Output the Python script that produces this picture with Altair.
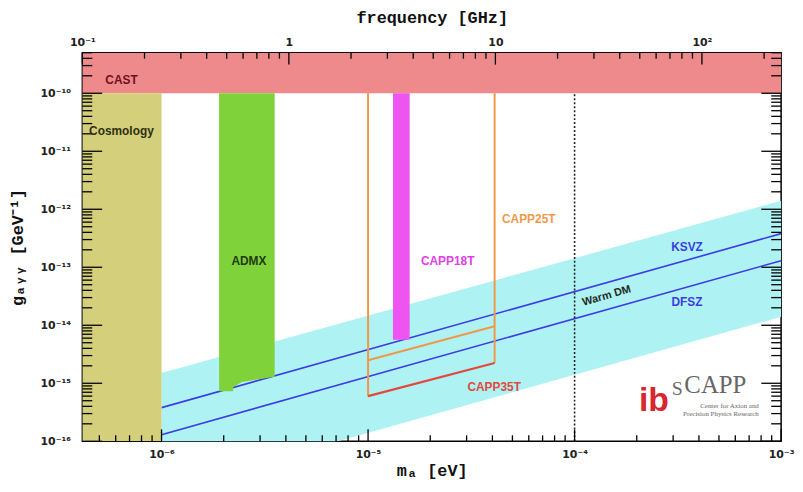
import altair as alt
import pandas as pd

GHZ_PER_EV = 2.418e5
XMIN = 0.1 / GHZ_PER_EV
XMAX = 1e-3
YMIN = 1e-16
YMAX = 5e-10
W, H = 705, 392

# filled rectangular exclusion regions
rect_names = ["CAST", "Cosmology", "CAPP18T"]
rect_m_lo = [XMIN, XMIN, 1.32e-5]
rect_m_hi = [XMAX, 1e-6, 1.59e-5]
rect_g_lo = [1e-10, YMIN, 5.6e-15]
rect_g_hi = [YMAX, 1e-10, 1e-10]
rect_colors = ["#ee8a8c", "#d4cf7a", "#ee55f0"]

# ADMX region (ragged lower edge)
admx_m = [1.90e-6, 2.22e-6, 2.22e-6, 2.45e-6, 3.53e-6]
admx_g_lo = [7.3e-16, 7.3e-16, 8.5e-16, 1.05e-15, 1.3e-15]
admx_g_hi = [1e-10, 1e-10, 1e-10, 1e-10, 1e-10]

# QCD axion band
band_m = [1e-6, 1e-3]
band_g_hi = [1.5e-15, 1.4e-12]
band_g_lo = [1.4e-17, 1.4e-14]

# line segments (models and CAPP sensitivities)
seg_names = ["KSVZ", "DFSZ", "25T left", "25T right", "25T bottom", "35T bottom"]
seg_m1 = [1e-6, 1e-6, 1e-5, 4.1e-5, 1e-5, 1e-5]
seg_m2 = [1e-3, 1e-3, 1e-5, 4.1e-5, 4.1e-5, 4.1e-5]
seg_g1 = [3.8e-16, 1.3e-16, 1e-10, 1e-10, 2.5e-15, 6.0e-16]
seg_g2 = [3.8e-13, 1.3e-13, 6.0e-16, 2.24e-15, 9.6e-15, 2.24e-15]
seg_colors = ["#3c3ce0", "#3c3ce0", "#f0984a", "#f0984a", "#f0984a", "#e2483c"]
seg_widths = [1.6, 1.6, 2.0, 2.0, 2.0, 2.2]

# warm dark matter boundary
wdm_m = [1e-4]
wdm_g1 = [1e-16]
wdm_g2 = [1e-10]

# labels inside the plot
lab_text = ["CAST", "ADMX", "CAPP18T", "CAPP25T", "CAPP35T", "KSVZ", "DFSZ"]
lab_m = [6.4e-7, 2.65e-6, 2.43e-5, 6.0e-5, 4.08e-5, 3.5e-4, 3.5e-4]
lab_g = [1.67e-10, 1.26e-13, 1.26e-13, 6.7e-13, 8.5e-16, 2.2e-13, 2.5e-14]
lab_colors = ["#6e1020", "#1f3a10", "#e040e6", "#f0984a", "#e2483c", "#3c3ce0", "#3c3ce0"]

cosmo_text = ["Cosmology"]
cosmo_m = [4.46e-7]
cosmo_g = [2.2e-11]

wdm_text = ["Warm DM"]
wdm_lab_m = [1.43e-4]
wdm_lab_g = [3.2e-14]

# logo texts
logo_text = ["ib", "S", "CAPP"]
logo_m = [2.05e-4, 2.95e-4, 3.40e-4]
logo_g = [3.26e-16, 6.36e-16, 6.88e-16]
logo_colors = ["#d6282e", "#6a6a6a", "#666666"]
logo_sizes = [34, 20, 25]
logo_fonts = ["Liberation Sans", "Liberation Serif", "Liberation Serif"]
logo_weights = ["bold", "normal", "normal"]
logo_sub_text = ["Center for Axion and", "Precision Physics Research"]
logo_sub_m = [7.8e-4, 7.8e-4]
logo_sub_g = [3.81e-16, 2.68e-16]

# axis ticks and labels
x_major = [1e-6, 1e-5, 1e-4, 1e-3]
x_major_labels = ["10⁻⁶", "10⁻⁵", "10⁻⁴", "10⁻³"]
freq_major = [0.1, 1, 10, 100]
freq_major_labels = ["10⁻¹", "1", "10", "10²"]
y_major = [1e-16, 1e-15, 1e-14, 1e-13, 1e-12, 1e-11, 1e-10]
y_major_labels = ["10⁻¹⁶", "10⁻¹⁵", "10⁻¹⁴", "10⁻¹³", "10⁻¹²", "10⁻¹¹", "10⁻¹⁰"]

x_minor = [k * 10.0 ** e for e in range(-7, -3) for k in range(2, 10)
           if XMIN <= k * 10.0 ** e <= XMAX]
freq_minor = [k * 10.0 ** e for e in range(-1, 3) for k in range(2, 10)
              if k * 10.0 ** e <= XMAX * GHZ_PER_EV]
y_minor = [k * 10.0 ** e for e in range(-16, -9) for k in range(2, 10)
           if k * 10.0 ** e <= YMAX]

freq_major_m = [f / GHZ_PER_EV for f in freq_major]
freq_minor_m = [f / GHZ_PER_EV for f in freq_minor]

# pixels per decade of the two log axes (tick lengths are given in pixels)
PX_DEC_X = W / 3.3835
PX_DEC_Y = H / 6.699


def label_expr(values, labels):
    expr = "''"
    for v, lab in reversed(list(zip(values, labels))):
        expr = f"abs(log(datum.value) - log({v!r})) < 0.01 ? '{lab}' : ({expr})"
    return expr


XS = alt.Scale(type="log", domain=[XMIN, XMAX], nice=False)
YS = alt.Scale(type="log", domain=[YMIN, YMAX], nice=False)

LABEL_FONT = "DejaVu Sans"
TITLE_FONT = "Liberation Mono"

rects = pd.DataFrame(dict(name=rect_names, m1=rect_m_lo, m2=rect_m_hi,
                          g1=rect_g_lo, g2=rect_g_hi, color=rect_colors))
admx = pd.DataFrame(dict(m=admx_m, lo=admx_g_lo, hi=admx_g_hi))
band = pd.DataFrame(dict(m=band_m, hi=band_g_hi, lo=band_g_lo))
segs = pd.DataFrame(dict(name=seg_names, m1=seg_m1, m2=seg_m2, g1=seg_g1,
                         g2=seg_g2, color=seg_colors, w=seg_widths))
wdm = pd.DataFrame(dict(m=wdm_m, g1=wdm_g1, g2=wdm_g2))
labs = pd.DataFrame(dict(t=lab_text, m=lab_m, g=lab_g, color=lab_colors))
cosmo = pd.DataFrame(dict(t=cosmo_text, m=cosmo_m, g=cosmo_g))
wdml = pd.DataFrame(dict(t=wdm_text, m=wdm_lab_m, g=wdm_lab_g))
logo = pd.DataFrame(dict(t=logo_text, m=logo_m, g=logo_g))
logo_sub = pd.DataFrame(dict(t=logo_sub_text, m=logo_sub_m, g=logo_sub_g))
dummy = pd.DataFrame(dict(m=[1e-5], g=[1e-13]))


def X(field):
    return alt.X(f"{field}:Q", scale=XS, axis=None)


def Y(field):
    return alt.Y(f"{field}:Q", scale=YS, axis=None)


band_layer = alt.Chart(band).mark_area(color="#aef2f4", clip=True).encode(
    x=X("m"), y=Y("hi"), y2="lo")

line_layer = alt.Chart(segs).mark_rule(clip=True).encode(
    x=X("m1"), x2="m2", y=Y("g1"), y2="g2",
    color=alt.Color("color:N", scale=None),
    strokeWidth=alt.StrokeWidth("w:Q", scale=None))

rect_layer = alt.Chart(rects).mark_rect(clip=True).encode(
    x=X("m1"), x2="m2", y=Y("g1"), y2="g2",
    color=alt.Color("color:N", scale=None))

admx_layer = alt.Chart(admx).mark_area(color="#80d23a", clip=True).encode(
    x=X("m"), y=Y("hi"), y2="lo")

wdm_layer = alt.Chart(wdm).mark_rule(color="#222222", strokeWidth=1.6,
                                     strokeDash=[2, 2]).encode(
    x=X("m"), y=Y("g1"), y2="g2")

lab_layer = alt.Chart(labs).mark_text(font="Liberation Sans", fontWeight="bold",
                                      fontSize=12).encode(
    x=X("m"), y=Y("g"), text="t:N", color=alt.Color("color:N", scale=None))

cosmo_layer = alt.Chart(cosmo).mark_text(font="Liberation Sans", fontWeight="bold",
                                         fontSize=12, align="left",
                                         color="#2e2e10").encode(
    x=X("m"), y=Y("g"), text="t:N")

wdml_layer = alt.Chart(wdml).mark_text(font="Liberation Sans", fontWeight="bold",
                                       fontSize=11, angle=344,
                                       color="#1e2a20").encode(
    x=X("m"), y=Y("g"), text="t:N")

logo_layers = []
for i in range(len(logo_text)):
    logo_layers.append(
        alt.Chart(logo.iloc[[i]]).mark_text(
            font=logo_fonts[i], fontSize=logo_sizes[i], align="left",
            baseline="alphabetic", color=logo_colors[i],
            fontWeight=logo_weights[i]).encode(
            x=X("m"), y=Y("g"), text="t:N"))

logo_sub_layer = alt.Chart(logo_sub).mark_text(
    font="Liberation Serif", fontSize=7, align="right", baseline="alphabetic",
    color="#666666").encode(x=X("m"), y=Y("g"), text="t:N")


# inward-pointing tick marks on all four sides, drawn through the scales
def xticks(values, top, length):
    f = 10 ** (length / PX_DEC_Y)
    a, b = (YMAX, YMAX / f) if top else (YMIN, YMIN * f)
    df = pd.DataFrame({"v": values, "a": a, "b": b})
    return alt.Chart(df).mark_rule(color="black", strokeWidth=1.3).encode(
        x=X("v"), y=Y("a"), y2="b")


def yticks(values, right, length):
    f = 10 ** (length / PX_DEC_X)
    a, b = (XMAX, XMAX / f) if right else (XMIN, XMIN * f)
    df = pd.DataFrame({"v": values, "a": a, "b": b})
    return alt.Chart(df).mark_rule(color="black", strokeWidth=1.3).encode(
        y=Y("v"), x=X("a"), x2="b")


tick_layers = [
    xticks(x_major, False, 12), xticks(x_minor, False, 6),
    xticks(freq_major_m, True, 12), xticks(freq_minor_m, True, 6),
    yticks(y_major, False, 20), yticks(y_minor, False, 10),
    yticks(y_major, True, 20), yticks(y_minor, True, 10),
]

common = dict(domain=False, grid=False, ticks=False, labelFont=LABEL_FONT,
              labelFontSize=11, labelFontWeight="bold", labelColor="#222222",
              labelOverlap=False, labelBound=False, labelFlush=False)
title_style = dict(titleFont=TITLE_FONT, titleFontSize=17,
                   titleFontWeight="bold", titleColor="#111111")

ax_main = alt.Chart(dummy).mark_point(opacity=0).encode(
    x=alt.X("m:Q", scale=XS, axis=alt.Axis(
        orient="bottom", values=x_major,
        labelExpr=label_expr(x_major, x_major_labels), labelPadding=7,
        title="mₐ  [eV]", titlePadding=4, **common, **title_style)),
    y=alt.Y("g:Q", scale=YS, axis=alt.Axis(
        orient="left", values=y_major,
        labelExpr=label_expr(y_major, y_major_labels), labelPadding=12,
        title="gₐᵧᵧ  [GeV⁻¹]", titlePadding=14, **common, **title_style)))

ax_top = alt.Chart(dummy).mark_point(opacity=0).encode(
    x=alt.X("m:Q", scale=XS, axis=alt.Axis(
        orient="top", values=freq_major_m,
        labelExpr=label_expr(freq_major_m, freq_major_labels), labelPadding=5,
        title="frequency [GHz]", titlePadding=10, **common, **title_style)))

chart = alt.layer(
    band_layer, line_layer, rect_layer, admx_layer, wdm_layer,
    *tick_layers,
    lab_layer, cosmo_layer, wdml_layer, *logo_layers, logo_sub_layer,
    ax_main, ax_top,
).resolve_axis(x="independent", y="independent").properties(
    width=W, height=H,
    padding={"left": 75, "top": 43, "right": 14, "bottom": 41},
    autosize=alt.AutoSizeParams(type="none"),
).configure_view(stroke="black", strokeWidth=1.5)

chart.save("out.html", embed_options={"renderer": "svg", "actions": False})
